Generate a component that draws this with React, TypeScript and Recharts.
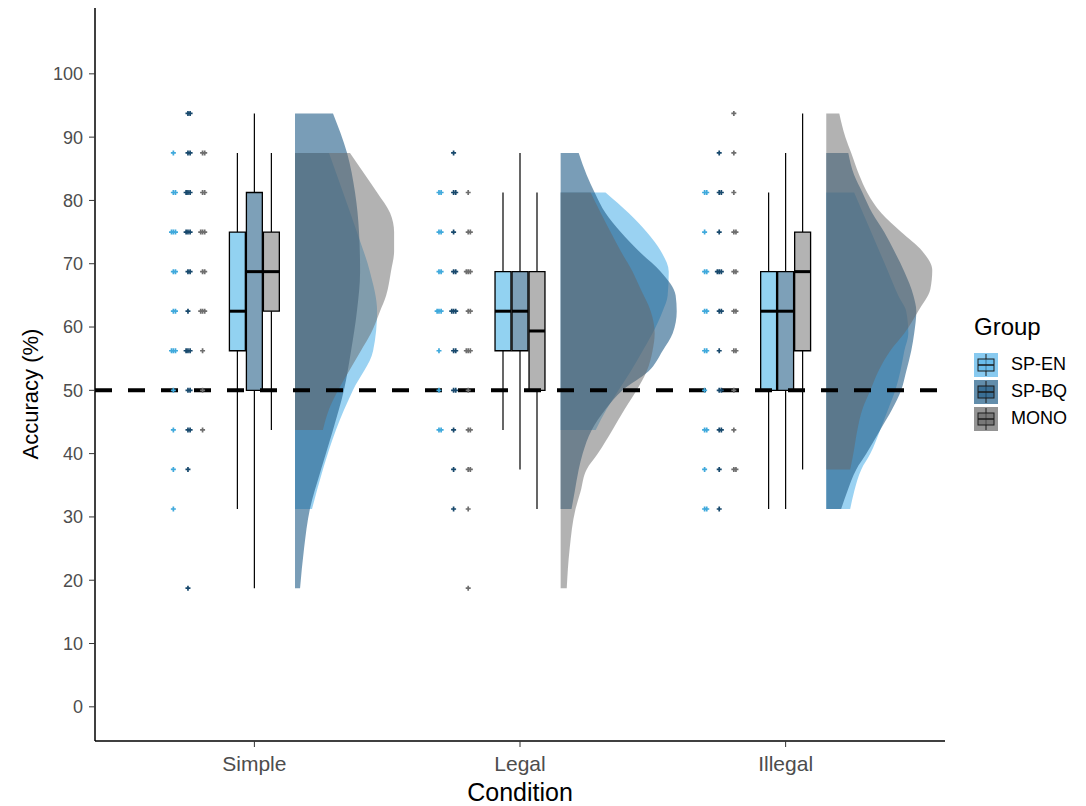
import React from "react";
import { ComposedChart, Area, Scatter, XAxis, YAxis, ReferenceLine, ReferenceArea } from "recharts";

const conditions = ["Simple", "Legal", "Illegal"];
const groups = ["SP-EN", "SP-BQ", "MONO"];
const yTicks = [0, 10, 20, 30, 40, 50, 60, 70, 80, 90, 100];
const chance = 50;

// participant scores (% correct), one list per condition x group
const simpleEN = [87.5, 81.25, 81.25, 75, 75, 75, 68.75, 68.75, 62.5, 62.5, 56.25, 56.25, 56.25, 50, 43.75, 37.5, 31.25];
const simpleBQ = [93.75, 93.75, 87.5, 87.5, 81.25, 81.25, 81.25, 75, 75, 75, 68.75, 68.75, 62.5, 56.25, 56.25, 56.25, 50, 50, 43.75, 43.75, 37.5, 18.75];
const simpleMONO = [87.5, 87.5, 81.25, 81.25, 75, 75, 75, 68.75, 68.75, 62.5, 62.5, 62.5, 56.25, 50, 43.75];
const legalEN = [81.25, 81.25, 75, 75, 68.75, 68.75, 62.5, 62.5, 62.5, 56.25, 50, 43.75, 43.75];
const legalBQ = [87.5, 81.25, 81.25, 75, 68.75, 68.75, 62.5, 62.5, 62.5, 56.25, 56.25, 50, 50, 43.75, 37.5, 31.25];
const legalMONO = [81.25, 75, 75, 68.75, 68.75, 68.75, 62.5, 62.5, 56.25, 56.25, 56.25, 50, 43.75, 43.75, 37.5, 37.5, 31.25, 18.75];
const illegalEN = [81.25, 81.25, 75, 68.75, 68.75, 62.5, 62.5, 56.25, 56.25, 50, 43.75, 43.75, 37.5, 31.25, 31.25];
const illegalBQ = [87.5, 81.25, 81.25, 75, 68.75, 68.75, 68.75, 62.5, 62.5, 56.25, 50, 50, 43.75, 43.75, 37.5, 31.25];
const illegalMONO = [93.75, 87.5, 81.25, 75, 75, 68.75, 68.75, 62.5, 62.5, 56.25, 56.25, 50, 43.75, 37.5, 37.5];

// boxplot stats [low whisker, q1, median, q3, high whisker] for SP-EN, SP-BQ, MONO
const boxSimple = [[31.25, 56.25, 62.5, 75, 87.5], [18.75, 50, 68.75, 81.25, 93.75], [43.75, 62.5, 68.75, 75, 87.5]];
const boxLegal = [[43.75, 56.25, 62.5, 68.75, 81.25], [37.5, 56.25, 62.5, 68.75, 87.5], [31.25, 50, 59.375, 68.75, 81.25]];
const boxIllegal = [[31.25, 50, 62.5, 68.75, 81.25], [31.25, 50, 62.5, 68.75, 87.5], [37.5, 56.25, 68.75, 75, 93.75]];

// half violins: [accuracy, density width]
const vSimpleEN = [[31.25, 0.064], [37.5, 0.105], [43.75, 0.154], [50, 0.218], [56.25, 0.294], [62.5, 0.309], [68.75, 0.282], [75, 0.233], [81.25, 0.181], [87.5, 0.128]];
const vSimpleBQ = [[18.75, 0.019], [25, 0.034], [31.25, 0.056], [37.5, 0.098], [43.75, 0.143], [50, 0.184], [56.25, 0.211], [62.5, 0.233], [68.75, 0.245], [75, 0.241], [81.25, 0.226], [87.5, 0.196], [93.75, 0.143]];
const vSimpleMONO = [[43.75, 0.105], [47, 0.128], [50, 0.162], [53, 0.203], [56.25, 0.248], [59, 0.286], [62.5, 0.32], [65, 0.343], [68.75, 0.361], [72, 0.373], [75, 0.373], [78, 0.358], [81.25, 0.309], [84, 0.264], [87.5, 0.207]];
const vLegalEN = [[43.75, 0.132], [47, 0.173], [50, 0.218], [53, 0.264], [56.25, 0.309], [59, 0.346], [62.5, 0.384], [65, 0.403], [68.75, 0.407], [72, 0.377], [75, 0.324], [78, 0.256], [81.25, 0.169]];
const vLegalBQ = [[31.25, 0.041], [34, 0.053], [37.5, 0.068], [40, 0.083], [43.75, 0.117], [47, 0.169], [50, 0.233], [53, 0.331], [56.25, 0.384], [59, 0.422], [62.5, 0.437], [65, 0.433], [68.75, 0.377], [72, 0.294], [75, 0.226], [78, 0.169], [81.25, 0.128], [84, 0.098], [87.5, 0.068]];
const vLegalMONO = [[18.75, 0.023], [25, 0.034], [31.25, 0.056], [34, 0.075], [37.5, 0.098], [40, 0.14], [43.75, 0.195], [47, 0.241], [50, 0.286], [53, 0.324], [56.25, 0.346], [59, 0.354], [62.5, 0.339], [66, 0.301], [68.75, 0.271], [72, 0.226], [75, 0.188], [78, 0.151], [81.25, 0.113]];
const vIllegalEN = [[31.25, 0.09], [34, 0.105], [37.5, 0.132], [40, 0.166], [43.75, 0.203], [47, 0.233], [50, 0.26], [53, 0.279], [56.25, 0.294], [59, 0.309], [62.5, 0.301], [65, 0.271], [68.75, 0.233], [75, 0.169], [81.25, 0.105]];
const vIllegalBQ = [[31.25, 0.056], [34, 0.079], [37.5, 0.113], [40, 0.151], [43.75, 0.203], [47, 0.248], [50, 0.282], [53, 0.301], [56.25, 0.32], [59, 0.331], [62.5, 0.339], [65, 0.328], [68.75, 0.294], [72, 0.256], [75, 0.218], [78, 0.173], [81.25, 0.136], [84, 0.105], [87.5, 0.083]];
const vIllegalMONO = [[37.5, 0.09], [40, 0.102], [43.75, 0.117], [47, 0.136], [50, 0.166], [53, 0.196], [56.25, 0.241], [59, 0.294], [62.5, 0.346], [66, 0.392], [69, 0.399], [72, 0.361], [75, 0.282], [78, 0.207], [81.25, 0.154], [84, 0.124], [87.5, 0.094], [90, 0.072], [93.75, 0.049]];

const fillColors = ["#56B4E9", "#1F5C87", "#666666"];
const fillOpacity = [0.6, 0.6, 0.5];
const dotColors = ["#3FA9DC", "#17486C", "#6E6E6E"];
const boxColors = ["#92D2F1", "#7DA0B8", "#B3B3B3"];

const dotOffset = [-0.305, -0.25, -0.195];
const boxOffset = [-0.064, 0, 0.064];
const boxHalf = 0.03;
const violinOffset = 0.153;
const jitter = [0, 0.008, -0.007, 0.004, -0.004];

const points = [[simpleEN, simpleBQ, simpleMONO], [legalEN, legalBQ, legalMONO], [illegalEN, illegalBQ, illegalMONO]];
const boxes = [boxSimple, boxLegal, boxIllegal];
const violins = [[vSimpleEN, vSimpleBQ, vSimpleMONO], [vLegalEN, vLegalBQ, vLegalMONO], [vIllegalEN, vIllegalBQ, vIllegalMONO]];

const font = '"Liberation Sans", Arial, sans-serif';

function dotsFor(g: number) {
  const out: { x: number; y: number }[] = [];
  points.forEach((row, ci) => {
    const seen: Record<string, number> = {};
    row[g].forEach((v) => {
      const k = seen[v] || 0;
      seen[v] = k + 1;
      out.push({ x: ci + 1 + dotOffset[g] + jitter[k % jitter.length], y: v });
    });
  });
  return out;
}

const Plus = (props: any) => {
  const { cx, cy, color } = props;
  if (cx == null || cy == null) return null;
  return <path d={`M${cx - 2.5},${cy}H${cx + 2.5}M${cx},${cy - 2.5}V${cy + 2.5}`} stroke={color} strokeWidth={1.7} fill="none" />;
};

const YTitle = () => (
  <text x={30} y={394} transform="rotate(-90 30 394)" textAnchor="middle" dominantBaseline="central" fontSize={22} fontFamily={font} fill="#000">
    Accuracy (%)
  </text>
);

const XTitle = () => (
  <text x={520} y={801} textAnchor="middle" fontSize={25} fontFamily={font} fill="#000">
    Condition
  </text>
);

const KeyIcon = ({ color }: { color: string }) => (
  <svg width={24} height={24} style={{ display: "block" }}>
    <rect x={0} y={0} width={24} height={24} fill={color} fillOpacity={0.7} />
    <line x1={12} y1={1} x2={12} y2={23} stroke="#1a1a1a" strokeWidth={1} />
    <rect x={4} y={6} width={16} height={12} fill={color} fillOpacity={0.6} stroke="#1a1a1a" strokeWidth={1} />
    <line x1={4} y1={12} x2={20} y2={12} stroke="#1a1a1a" strokeWidth={1.5} />
  </svg>
);

export default function App() {
  return (
    <div style={{ position: "absolute", left: 0, top: 0, width: 1086, height: 806, background: "#fff", fontFamily: font }}>
      <ComposedChart layout="vertical" width={1086} height={806} margin={{ top: 8, right: 141, bottom: 0, left: 0 }}>
        <XAxis
          type="number"
          dataKey="x"
          domain={[0.4, 3.6]}
          ticks={[1, 2, 3]}
          interval={0}
          allowDataOverflow
          tickFormatter={(v: number) => conditions[v - 1]}
          height={65}
          tickSize={6}
          tickMargin={9}
          axisLine={{ stroke: "#000", strokeWidth: 1.5 }}
          tickLine={{ stroke: "#333" }}
          tick={{ fontSize: 21, fill: "#4D4D4D", fontFamily: font }}
          label={<XTitle />}
        />
        <YAxis
          type="number"
          dataKey="y"
          reversed
          domain={[-5.4, 110.4]}
          ticks={yTicks}
          interval={0}
          allowDataOverflow
          width={95}
          tickSize={6}
          tickMargin={6}
          axisLine={{ stroke: "#000", strokeWidth: 1.5 }}
          tickLine={{ stroke: "#333" }}
          tick={{ fontSize: 18, fill: "#4D4D4D", fontFamily: font }}
          label={<YTitle />}
        />

        {violins.map((row, ci) =>
          row.map((v, g) => (
            <Area
              key={`v-${ci}-${g}`}
              data={v.map(([y, w]) => ({ y, band: [ci + 1 + violinOffset, ci + 1 + violinOffset + w] }))}
              dataKey="band"
              type="monotone"
              fill={fillColors[g]}
              fillOpacity={fillOpacity[g]}
              stroke="none"
              dot={false}
              activeDot={false}
              isAnimationActive={false}
            />
          ))
        )}

        {groups.map((name, g) => (
          <Scatter
            key={`p-${name}`}
            name={name}
            data={dotsFor(g)}
            shape={(p: any) => <Plus {...p} color={dotColors[g]} />}
            isAnimationActive={false}
          />
        ))}

        {boxes.map((row, ci) =>
          row.map(([lo, q1, med, q3, hi], g) => {
            const xc = ci + 1 + boxOffset[g];
            return [
              <ReferenceLine key={`wl-${ci}-${g}`} segment={[{ x: xc, y: lo }, { x: xc, y: q1 }]} stroke="#000" strokeWidth={1.2} />,
              <ReferenceLine key={`wh-${ci}-${g}`} segment={[{ x: xc, y: q3 }, { x: xc, y: hi }]} stroke="#000" strokeWidth={1.2} />,
              <ReferenceArea key={`b-${ci}-${g}`} x1={xc - boxHalf} x2={xc + boxHalf} y1={q1} y2={q3} fill={boxColors[g]} fillOpacity={1} stroke="#000" strokeWidth={1.3} />,
              <ReferenceLine key={`m-${ci}-${g}`} segment={[{ x: xc - boxHalf, y: med }, { x: xc + boxHalf, y: med }]} stroke="#000" strokeWidth={3} />,
            ];
          })
        )}

        <ReferenceLine y={chance} stroke="#000" strokeWidth={4} strokeDasharray="17 16" />
      </ComposedChart>

      <div style={{ position: "absolute", left: 974, top: 312, color: "#000" }}>
        <div style={{ fontSize: 24, lineHeight: "30px", height: 39 }}>Group</div>
        {groups.map((name, g) => (
          <div key={name} style={{ display: "flex", alignItems: "center", height: 27 }}>
            <KeyIcon color={fillColors[g]} />
            <span style={{ fontSize: 18, marginLeft: 13 }}>{name}</span>
          </div>
        ))}
      </div>
    </div>
  );
}
